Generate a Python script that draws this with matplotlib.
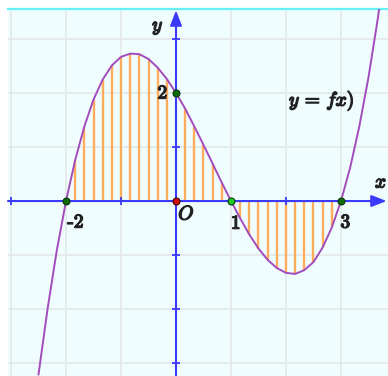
import matplotlib
matplotlib.use("Agg")
import matplotlib.pyplot as plt
import matplotlib.patheffects as pe

# curve samples
x_vals = [-2.5, -2.333, -2.167, -2.0, -1.833, -1.667, -1.5, -1.333, -1.167, -1.0,
          -0.833, -0.667, -0.5, -0.333, -0.167, 0.0, 0.167, 0.333, 0.5, 0.667,
          0.833, 1.0, 1.167, 1.333, 1.5, 1.667, 1.833, 2.0, 2.167, 2.333,
          2.5, 2.667, 2.833, 3.0, 3.167, 3.333, 3.5, 3.667, 3.833]
y_vals = [-3.21, -1.98, -0.91, 0.0, 0.76, 1.38, 1.88, 2.25, 2.51, 2.67,
          2.73, 2.72, 2.63, 2.47, 2.26, 2.0, 1.71, 1.38, 1.04, 0.69,
          0.34, 0.0, -0.32, -0.62, -0.88, -1.09, -1.24, -1.33, -1.35, -1.28,
          -1.13, -0.86, -0.49, 0.0, 0.62, 1.38, 2.29, 3.36, 4.59]

shade_from, shade_to = -2, 3
green_pts = [(-2, 0), (3, 0), (0, 2)]
lime_pts = [(1, 0)]
origin_pt = (0, 0)
x_ticks = [-3, -1, 2]
y_ticks = [-3, -2, -1, 1, 3]
grid_x = [-3, -2, -1, 1, 2, 3]
grid_y = [-3, -2, -1, 1, 2, 3]

plt.rcParams['mathtext.fontset'] = 'cm'

fig = plt.figure(figsize=(3.88, 3.76), dpi=100)
ax = fig.add_axes([8 / 388, 0, 380 / 388, 367 / 376])
xmin, xmax = -3.055, 3.855
ymin, ymax = -3.24, 3.556
ax.set_xlim(xmin, xmax)
ax.set_ylim(ymin, ymax)
ax.set_facecolor('#f0fdfe')
for s in ['left', 'right', 'bottom']:
    ax.spines[s].set_visible(False)
ax.spines['top'].set_color('#66f0f8')
ax.spines['top'].set_linewidth(1.6)
ax.set_xticks([])
ax.set_yticks([])

for g in grid_x:
    ax.axvline(g, color='#e4e8e9', lw=1.3, zorder=0)
for g in grid_y:
    ax.axhline(g, color='#e4e8e9', lw=1.3, zorder=0)

# hatch lines under the curve
hx = [x for x in x_vals if shade_from < x < shade_to and x != 0]
hy = [y for x, y in zip(x_vals, y_vals) if shade_from < x < shade_to and x != 0]
ax.vlines(hx, 0, hy, color='#ffad5c', lw=1.7, zorder=1)

ax.plot(x_vals, y_vals, color='#a24cbc', lw=1.4, zorder=3)

axis_col = '#3a3af8'
ax.annotate('', xy=(3.83, 0), xytext=(xmin, 0),
            arrowprops=dict(arrowstyle='-|>,head_length=0.9,head_width=0.35',
                            color=axis_col, lw=1.5, shrinkA=0, shrinkB=0), zorder=2)
ax.annotate('', xy=(0, 3.53), xytext=(0, ymin),
            arrowprops=dict(arrowstyle='-|>,head_length=0.9,head_width=0.35',
                            color=axis_col, lw=1.5, shrinkA=0, shrinkB=0), zorder=2)
ax.plot(x_ticks, [0] * len(x_ticks), ls='none', marker='|', ms=6, mew=1.3, color=axis_col, zorder=2)
ax.plot([0] * len(y_ticks), y_ticks, ls='none', marker='_', ms=6, mew=1.3, color=axis_col, zorder=2)

for px, py in green_pts:
    ax.plot(px, py, 'o', ms=5, mfc='#0a6a0a', mec='#0a3a0a', mew=0.8, zorder=5)
for px, py in lime_pts:
    ax.plot(px, py, 'o', ms=5, mfc='#22cc22', mec='#0a3a0a', mew=0.8, zorder=5)
ax.plot(*origin_pt, 'o', ms=5, mfc='#d01010', mec='#400000', mew=0.8, zorder=5)

bold = [pe.withStroke(linewidth=1.0, foreground='#222222')]
def label(x, y, s, size=14):
    ax.text(x, y, s, fontsize=size, ha='center', va='center', color='#222222',
            path_effects=bold, zorder=6, clip_on=False)

label(-0.33, 3.22, r'$y$')
label(3.73, 0.35, r'$x$')
label(-0.24, 2.0, r'$\mathbf{2}$')
label(-1.82, -0.39, r'$\mathbf{\text{-}2}$')
label(0.19, -0.24, r'$O$')
label(1.09, -0.41, r'$\mathbf{1}$')
label(3.09, -0.39, r'$\mathbf{3}$')
label(2.65, 1.85, r'$y\,=\,fx)$')

fig.savefig('out.png', dpi=100)
